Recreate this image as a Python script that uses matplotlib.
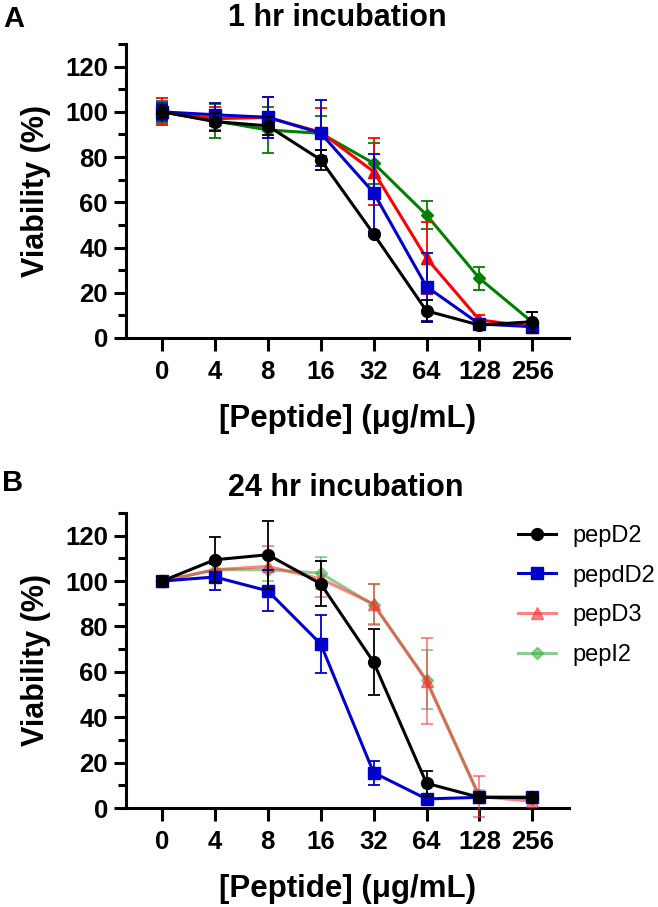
import matplotlib
matplotlib.use("Agg")
import matplotlib.pyplot as plt
from matplotlib.ticker import MultipleLocator
from matplotlib.lines import Line2D
import numpy as np

plt.rcParams['font.family'] = ['Liberation Sans', 'DejaVu Sans']

conc_labels = ["0", "4", "8", "16", "32", "64", "128", "256"]
series_names = ["pepD2", "pepdD2", "pepD3", "pepI2"]

# Panel A: 1 hr incubation
a_pepD2 = [100, 95.7, 93.8, 78.8, 46.0, 12.0, 5.7, 7.2]
a_pepD2_err = [3, 4, 4, 4.5, 1, 5, 1, 4.5]
a_pepdD2 = [100, 98.7, 97.6, 90.6, 64.3, 22.7, 6.2, 5.0]
a_pepdD2_err = [4, 5, 9, 14.5, 17, 15, 2, 2]
a_pepD3 = [100, 97, 97.5, 91.0, 73.6, 35.3, 8.0, 5.0]
a_pepD3_err = [6, 5, 9, 10.5, 15, 16, 2, 1.5]
a_pepI2 = [100, 96, 92, 90.5, 77.3, 54.4, 26.4, 7.0]
a_pepI2_err = [5, 7.5, 10, 7.5, 9, 6, 5, 4.5]

# Panel B: 24 hr incubation
b_pepD2 = [100, 109.4, 111.6, 98.8, 64.3, 10.9, 4.7, 4.7]
b_pepD2_err = [2, 10, 15, 10, 14.5, 5.5, 1, 1]
b_pepdD2 = [100, 101.8, 95.7, 72.3, 15.6, 4.0, 4.7, 4.7]
b_pepdD2_err = [2, 5.6, 9, 12.7, 5.3, 1, 1, 1]
b_pepD3 = [100, 105, 106.5, 101, 89.9, 56.0, 5.0, 3.0]
b_pepD3_err = [2, 4, 9, 8, 9, 19, 9, 1]
b_pepI2 = [100, 105, 105, 103.5, 89.5, 56.5, 5.0, 4.0]
b_pepI2_err = [2, 3, 5, 7, 9, 13, 3, 1]

W, H = 658, 907
fig = plt.figure(figsize=(W / 100, H / 100), dpi=100)

def fx(px):
    return px / W

def fy(py):
    return 1 - py / H

ax_left, ax_right = 126, 569
axA = fig.add_axes([fx(ax_left), fy(338), fx(ax_right - ax_left), (338 - 44) / H])
axB = fig.add_axes([fx(ax_left), fy(808), fx(ax_right - ax_left), (808 - 513) / H])

x = np.arange(len(conc_labels))

def style_axis(ax):
    ax.set_xlim((126 - 162) / 52.9, (569 - 162) / 52.9)
    ax.set_ylim(0, 130)
    ax.set_yticks(np.arange(0, 121, 20))
    ax.yaxis.set_minor_locator(MultipleLocator(10))
    ax.set_xticks(x)
    ax.set_xticklabels(conc_labels)
    for s in ['top', 'right']:
        ax.spines[s].set_visible(False)
    for s in ['left', 'bottom']:
        ax.spines[s].set_linewidth(2.2)
    ax.tick_params(axis='both', which='major', length=9, width=2.2, labelsize=18.5, pad=4)
    ax.tick_params(axis='x', which='major', pad=7)
    ax.tick_params(axis='y', which='minor', length=5.5, width=2.2)
    ax.tick_params(axis='x', which='minor', length=0)
    for lab in ax.get_xticklabels() + ax.get_yticklabels():
        lab.set_fontweight('bold')
    ax.set_ylabel("Viability (%)", fontsize=22, fontweight='bold', labelpad=10)
    ax.set_xlabel("[Peptide] (μg/mL)", fontsize=22.5, fontweight='bold', labelpad=14)

def plot_series(ax, y, err, color, marker, ms, alpha=1.0, z=2):
    ax.errorbar(x, y, yerr=err, color=color, marker=marker, markersize=ms,
                linewidth=2.2, elinewidth=1.3, capsize=4.5, capthick=1.3,
                alpha=alpha, zorder=z, clip_on=False)

# Panel A
plot_series(axA, a_pepI2, a_pepI2_err, '#008000', 'D', 6, z=2)
plot_series(axA, a_pepD3, a_pepD3_err, '#FF0000', '^', 8, z=3)
plot_series(axA, a_pepdD2, a_pepdD2_err, '#0000CC', 's', 8.5, z=4)
plot_series(axA, a_pepD2, a_pepD2_err, '#000000', 'o', 8.5, z=5)
style_axis(axA)

# Panel B
colsB = {'pepD2': ('#000000', 'o', 8.5, 1.0), 'pepdD2': ('#0000CC', 's', 8.5, 1.0),
         'pepD3': ('#FF3030', '^', 8, 0.6), 'pepI2': ('#3CB043', 'D', 6, 0.6)}
plot_series(axB, b_pepI2, b_pepI2_err, *colsB['pepI2'][:3], alpha=0.6, z=2)
plot_series(axB, b_pepD3, b_pepD3_err, *colsB['pepD3'][:3], alpha=0.6, z=3)
plot_series(axB, b_pepdD2, b_pepdD2_err, *colsB['pepdD2'][:3], z=4)
plot_series(axB, b_pepD2, b_pepD2_err, *colsB['pepD2'][:3], z=5)
style_axis(axB)

handles = [Line2D([], [], color=colsB[n][0], marker=colsB[n][1], markersize=colsB[n][2],
                  linewidth=2.2, alpha=colsB[n][3]) for n in series_names]
leg = fig.legend(handles, series_names,
                 loc='upper left', bbox_to_anchor=(fx(518), fy(525)),
                 frameon=False, fontsize=17, handlelength=1.6, handletextpad=0.7,
                 labelspacing=0.75, borderaxespad=0, borderpad=0)

fig.text(fx(337), fy(18), "1 hr incubation", ha='center', va='center', fontsize=22, fontweight='bold')
fig.text(fx(346), fy(488), "24 hr incubation", ha='center', va='center', fontsize=22, fontweight='bold')
fig.text(fx(3), fy(19), "A", ha='left', va='center', fontsize=21, fontweight='bold')
fig.text(fx(2), fy(483), "B", ha='left', va='center', fontsize=21, fontweight='bold')

fig.savefig("out.png", dpi=100)
